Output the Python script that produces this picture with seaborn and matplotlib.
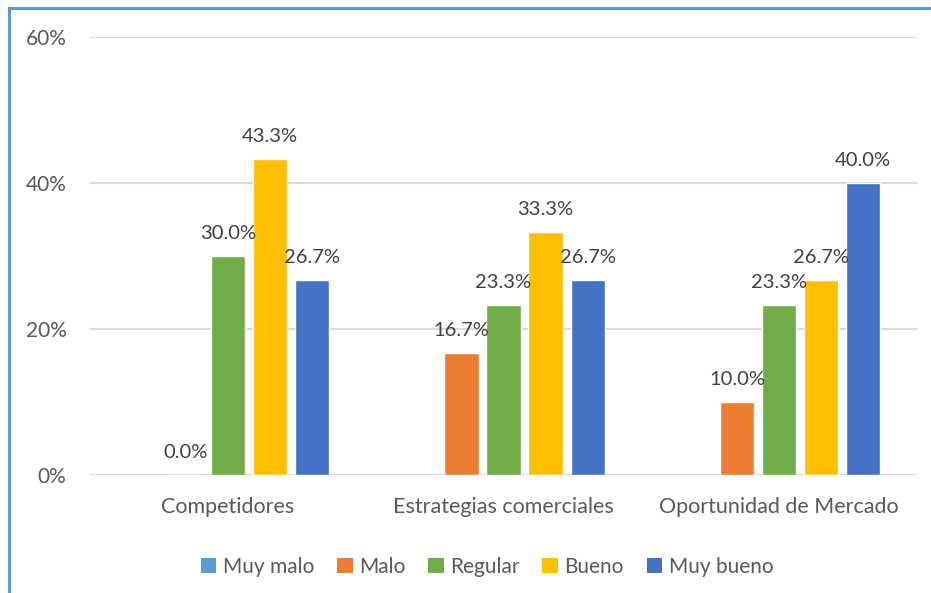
import numpy as np
import pandas as pd
import seaborn as sns
import matplotlib
matplotlib.use("Agg")
import matplotlib.pyplot as plt
from matplotlib.patches import Patch, Rectangle

# Survey results (% of respondents) per dimension and rating
categories = ["Competidores", "Estrategias comerciales", "Oportunidad de Mercado"]
ratings = ["Muy malo", "Malo", "Regular", "Bueno", "Muy bueno"]
muy_malo = [np.nan, np.nan, np.nan]
malo = [0.0, 16.7, 10.0]
regular = [30.0, 23.3, 23.3]
bueno = [43.3, 33.3, 26.7]
muy_bueno = [26.7, 26.7, 40.0]
y_ticks = [0, 20, 40, 60]
colors = ["#5B9BD5", "#ED7D31", "#70AD47", "#FFC000", "#4472C4"]

series = [muy_malo, malo, regular, bueno, muy_bueno]
rows = []
for rating, vals in zip(ratings, series):
    for cat, v in zip(categories, vals):
        rows.append({"categoria": cat, "valoracion": rating, "pct": v})
df = pd.DataFrame(rows)

sns.set_theme(style="white")
plt.rcParams["font.family"] = ["Lato", "DejaVu Sans"]
text_col = "#595959"

fig = plt.figure(figsize=(9.31, 5.93), dpi=100)
W, H = 931, 593
ax = fig.add_axes([90 / W, 1 - 475 / H, (917 - 90) / W, (475 - 37) / H])

sns.barplot(
    data=df.dropna(), x="categoria", y="pct", hue="valoracion",
    order=categories, hue_order=ratings, palette=colors,
    width=0.762, gap=0.19, errorbar=None, legend=False, ax=ax,
    saturation=1,
)

for cont in ax.containers:
    labels = [f"{b.get_height():.1f}%" for b in cont]
    ax.bar_label(cont, labels=labels, padding=10, fontsize=14.5, color="#404040")

ax.set_ylim(0, 60)
ax.set_xlim(-0.5, 2.5)
ax.set_yticks(y_ticks)
ax.set_yticklabels([f"{t}%" for t in y_ticks])
ax.yaxis.grid(True, color="#D9D9D9", linewidth=1.5)
ax.set_axisbelow(True)
for s in ax.spines.values():
    s.set_visible(False)
ax.tick_params(axis="y", length=0, pad=17, labelsize=15, labelcolor=text_col)
ax.tick_params(axis="x", length=0, pad=16, labelsize=15.5, labelcolor=text_col)
ax.set_xlabel("")
ax.set_ylabel("")

handles = [Patch(facecolor=c, edgecolor="none") for c in colors]
fig.legend(
    handles, ratings, loc="center", bbox_to_anchor=(487 / W, 1 - 567 / H),
    ncol=5, frameon=False, fontsize=15, labelcolor=text_col,
    handlelength=0.75, handleheight=0.75, handletextpad=0.3, columnspacing=1.1,
)

# chart frame
fig.patches.append(Rectangle((8.5 / W, -0.1), 1.2, 1 - 7.5 / H + 0.1,
                             transform=fig.transFigure, fill=False,
                             edgecolor="#5B9BD5", linewidth=2.2))

fig.savefig("out.png", dpi=100)
